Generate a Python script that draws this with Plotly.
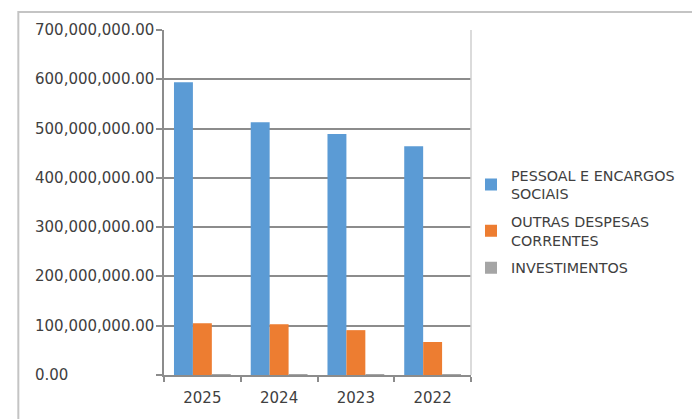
import plotly.graph_objects as go

# dados do gráfico
anos = ['2025', '2024', '2023', '2022']
pessoal = [594e6, 513e6, 489e6, 464e6]
outras = [105e6, 103e6, 91e6, 67e6]
investimentos = [0.6e6, 0.5e6, 2.0e6, 0.4e6]

nomes = ['PESSOAL E ENCARGOS<br>SOCIAIS', 'OUTRAS DESPESAS<br>CORRENTES', 'INVESTIMENTOS']
cores = ['#5B9BD5', '#ED7D31', '#A5A5A5']
y_ticks = [0, 100e6, 200e6, 300e6, 400e6, 500e6, 600e6, 700e6]

FONTE = 'DejaVu Sans'
TEXTO = '#404040'
EIXO = '#8c8c8c'

fig = go.Figure()
for i, (nome, valores, cor) in enumerate(zip(nomes, [pessoal, outras, investimentos], cores)):
    fig.add_trace(go.Bar(x=anos, y=valores, name=nome, marker_color=cor,
                         marker_line_width=0, legendgroup=f'g{i}'))

# rótulos do eixo y alinhados à esquerda, como no original
anotacoes = [
    dict(x=-0.427, xref='paper', xanchor='left', y=v, yref='y', yanchor='middle',
         text=f'{v:,.2f}', showarrow=False, font=dict(family=FONTE, size=15, color=TEXTO))
    for v in y_ticks
]

fig.update_layout(
    width=692, height=419,
    margin=dict(l=164, r=214, t=30, b=44),
    paper_bgcolor='white', plot_bgcolor='white',
    barmode='group', bargap=0.26, bargroupgap=0,
    font=dict(family=FONTE, size=15, color=TEXTO),
    annotations=anotacoes,
    legend=dict(x=1.0, xanchor='left', y=0.445, yanchor='middle',
                traceorder='grouped', tracegroupgap=6,
                font=dict(family=FONTE, size=14.3, color=TEXTO),
                bgcolor='rgba(0,0,0,0)'),
    xaxis=dict(type='category', showline=True, linecolor=EIXO, linewidth=1.5,
               ticks='outside', tickson='boundaries', ticklen=5, tickcolor=EIXO,
               tickwidth=1.5, showgrid=False, ticklabelstandoff=8,
               tickfont=dict(size=15, color=TEXTO)),
    yaxis=dict(range=[0, 700e6], tickvals=y_ticks, showticklabels=False,
               showline=True, linecolor=EIXO, linewidth=1.5, ticks='outside',
               ticklen=6, tickcolor=EIXO, tickwidth=1.5,
               showgrid=True, gridcolor=EIXO, gridwidth=1.5, zeroline=False),
    shapes=[
        # borda direita da área do gráfico
        dict(type='line', xref='paper', yref='paper', x0=1, x1=1, y0=0, y1=1,
             line=dict(color='#cfcfcf', width=1.5)),
        # moldura externa
        dict(type='rect', xref='paper', yref='paper', x0=-0.4745, x1=1.75,
             y0=-0.2, y1=1.052, line=dict(color='#c4c4c4', width=2)),
    ],
)

fig.write_html('out.html', config={'displayModeBar': False},
               post_script="document.body.style.margin = '0';")
